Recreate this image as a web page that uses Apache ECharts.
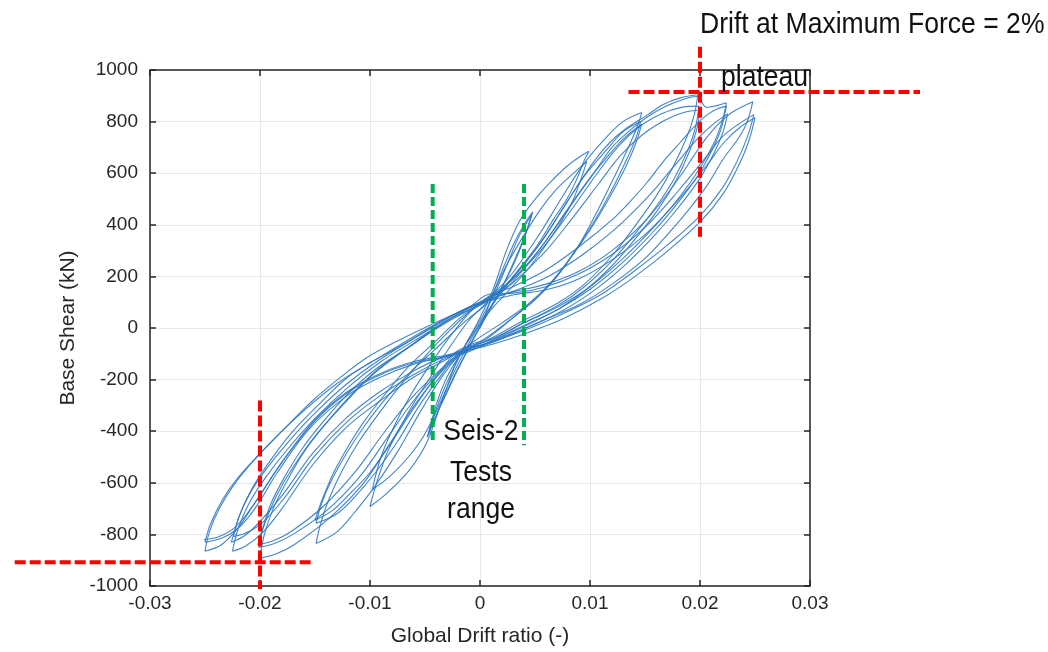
<!DOCTYPE html>
<html><head><meta charset="utf-8">
<script src="https://cdn.jsdelivr.net/npm/echarts@6/dist/echarts.min.js"></script>
<style>html,body{margin:0;padding:0;background:#fff}#c{width:1048px;height:652px}</style>
</head><body><div id="c"></div>
<script>
// ---- tick labels ----
const xTicks = ['-0.03','-0.02','-0.01','0','0.01','0.02','0.03'];
const yTicks = ['-1000','-800','-600','-400','-200','0','200','400','600','800','1000'];

// ---- hysteresis path (drift ratio, base shear kN) ----
const lvl1 = [
[0,0],[0.001,110],[0.002,220],[0.003,320],[0.004,400],[0.0048,450],
[0.0042,370],[0.0033,270],[0.0024,190],[0.0012,100],[0,10],[-0.0012,-90],[-0.0024,-190],[-0.0036,-300],[-0.0048,-423],
[-0.0042,-340],[-0.0033,-240],[-0.0022,-140],[-0.001,-40],[0.0003,50],[0.0015,150],[0.0026,260],[0.0036,360],[0.0047,440],
[0.004,350],[0.003,250],[0.0018,140],[0.0005,40],[-0.0008,-60],[-0.002,-160],[-0.003,-250],[-0.004,-340],[-0.0047,-415]
];
const lvl2 = [
[-0.0047,-415],[-0.004,-300],[-0.003,-190],[-0.0015,-80],[0,40],[0.0012,150],[0.0024,300],[0.0036,415],[0.0048,488],[0.0064,565],[0.0079,627],[0.0091,665],[0.0099,685],
[0.0094,642],[0.0088,577],[0.0079,500],[0.0067,423],[0.0052,320],[0.0036,230],[0.002,140],[0.0003,40],[-0.0012,-75],[-0.003,-230],[-0.0048,-440],[-0.0064,-550],[-0.0085,-642],[-0.01,-692],
[-0.0094,-600],[-0.0084,-480],[-0.0072,-380],[-0.006,-290],[-0.0045,-190],[-0.003,-90],[-0.001,30],[0.0008,110],[0.0025,250],[0.004,360],[0.0055,460],[0.007,540],[0.0085,600],[0.0097,645],
[0.0092,580],[0.0084,490],[0.0072,400],[0.0058,310],[0.0042,220],[0.0025,140],[0.0008,60],[-0.0018,-100],[-0.0032,-250],[-0.005,-410],[-0.0065,-500],[-0.0082,-575],[-0.0098,-627]
];
const lvl3 = [
[-0.0098,-627],[-0.009,-500],[-0.0078,-380],[-0.0063,-260],[-0.0045,-140],[-0.0025,-20],[-0.0005,80],[0.0016,150],[0.003,215],[0.0055,370],[0.0075,510],[0.0095,640],[0.0115,740],[0.013,800],[0.0147,835],
[0.0143,781],[0.0134,692],[0.0118,550],[0.0103,423],[0.0088,308],[0.007,200],[0.005,110],[0.003,40],[0.0005,-45],[-0.0011,-70],[-0.0033,-180],[-0.0055,-330],[-0.0075,-480],[-0.0095,-610],[-0.0115,-720],[-0.013,-790],[-0.0149,-835],
[-0.0145,-760],[-0.0137,-660],[-0.0125,-550],[-0.011,-440],[-0.009,-320],[-0.007,-210],[-0.005,-110],[-0.003,-20],[-0.001,60],[0.0007,112],[0.003,195],[0.0055,330],[0.0075,460],[0.0095,590],[0.0115,690],[0.013,760],[0.0146,800],
[0.0142,740],[0.0133,650],[0.0118,520],[0.0102,400],[0.0085,290],[0.0068,190],[0.005,110],[0.003,40],[0.0005,-40],[-0.002,-105],[-0.0033,-170],[-0.0055,-300],[-0.0075,-440],[-0.0095,-560],[-0.0115,-660],[-0.013,-720],[-0.0149,-757],
[-0.0144,-680],[-0.0135,-590],[-0.0122,-490],[-0.0105,-380],[-0.0085,-270],[-0.0063,-170],[-0.004,-80],[-0.0015,20],[0.001,105],[0.003,180],[0.0055,310],[0.0078,450],[0.0098,570],[0.0117,670],[0.0132,740],[0.0147,790],
[0.0142,720],[0.0132,620],[0.0117,500],[0.01,380],[0.0082,270],[0.0063,170],[0.0043,90],[0.002,20],[-0.0005,-50],[-0.002,-100],[-0.004,-190],[-0.006,-310],[-0.008,-440],[-0.01,-560],[-0.012,-650],[-0.0135,-710],[-0.015,-745]
];
const lvl4 = [
[-0.015,-745],[-0.0143,-660],[-0.0133,-560],[-0.012,-460],[-0.0105,-360],[-0.0085,-250],[-0.0065,-150],[-0.004,-50],[-0.0015,50],[0.0018,140],[0.003,200],[0.0055,330],[0.0079,488],[0.0103,642],[0.0118,719],[0.0134,777],[0.0152,825],[0.0166,865],[0.0182,892],[0.0198,904],
[0.0195,830],[0.0188,740],[0.0175,620],[0.016,510],[0.014,390],[0.012,280],[0.0095,170],[0.007,95],[0.004,30],[0.001,-40],[-0.0009,-80],[-0.0033,-160],[-0.0058,-290],[-0.0082,-448],[-0.0106,-602],[-0.0137,-737],[-0.0169,-840],[-0.0185,-875],[-0.020,-892],
[-0.0196,-800],[-0.0188,-700],[-0.0175,-590],[-0.016,-480],[-0.014,-370],[-0.0115,-250],[-0.009,-150],[-0.006,-60],[-0.003,30],[0.0005,100],[0.003,190],[0.0055,300],[0.008,440],[0.0105,590],[0.0125,700],[0.0145,780],[0.0165,830],[0.0183,855],[0.0199,860],
[0.0196,780],[0.0189,690],[0.0176,575],[0.016,470],[0.014,360],[0.012,260],[0.0095,160],[0.007,85],[0.004,20],[0.001,-45],[-0.0021,-95],[-0.0035,-160],[-0.006,-280],[-0.0085,-430],[-0.011,-580],[-0.014,-710],[-0.017,-800],[-0.0187,-835],[-0.0201,-850],
[-0.0197,-770],[-0.019,-680],[-0.0178,-580],[-0.0162,-470],[-0.0142,-360],[-0.012,-255],[-0.0095,-160],[-0.0065,-75],[-0.0035,10],[0.0013,125],[0.003,175],[0.0058,290],[0.0083,420],[0.0108,560],[0.0128,670],[0.0148,750],[0.0168,805],[0.0185,835],[0.02,845],
[0.0197,770],[0.019,680],[0.0178,570],[0.0162,460],[0.0142,350],[0.0122,250],[0.0097,150],[0.0072,75],[0.0042,10],[0.0012,-50],[-0.0017,-95],[-0.0037,-165],[-0.0062,-270],[-0.0088,-410],[-0.0113,-555],[-0.0142,-690],[-0.0172,-790],[-0.0188,-825],[-0.0202,-840]
];
const lvl5 = [
[-0.0202,-840],[-0.0195,-750],[-0.0185,-650],[-0.017,-540],[-0.015,-420],[-0.0125,-300],[-0.01,-190],[-0.007,-90],[-0.004,0],[-0.001,80],[0.0008,118],[0.003,190],[0.0055,310],[0.008,460],[0.0105,610],[0.012,700],[0.0136,765],[0.0152,818],[0.0168,858],[0.0184,885],[0.0197,897],[0.0206,855],[0.0215,862],[0.0224,873],
[0.022,800],[0.0213,720],[0.02,620],[0.018,500],[0.016,400],[0.013,270],[0.01,160],[0.007,80],[0.004,20],[0.001,-45],[-0.0018,-82],[-0.003,-120],[-0.006,-190],[-0.009,-280],[-0.0121,-383],[-0.0152,-530],[-0.018,-700],[-0.0197,-790],[-0.0213,-845],[-0.0225,-865],
[-0.022,-780],[-0.021,-680],[-0.0195,-580],[-0.0175,-470],[-0.015,-350],[-0.012,-230],[-0.009,-130],[-0.006,-50],[-0.0025,40],[0.0017,138],[0.003,160],[0.006,225],[0.009,315],[0.0121,423],[0.0136,488],[0.0152,565],[0.0166,642],[0.0182,719],[0.0197,790],[0.0206,825],[0.0215,848],[0.0224,860],
[0.0219,770],[0.0211,690],[0.0198,590],[0.0178,475],[0.0158,375],[0.013,255],[0.01,150],[0.007,70],[0.004,10],[0.001,-50],[-0.001,-92],[-0.003,-115],[-0.006,-180],[-0.009,-260],[-0.012,-360],[-0.015,-495],[-0.0178,-660],[-0.0198,-755],[-0.0213,-795],[-0.0224,-808],
[-0.0219,-730],[-0.0209,-640],[-0.0194,-545],[-0.0174,-440],[-0.015,-330],[-0.0122,-220],[-0.0092,-125],[-0.006,-40],[-0.0025,50],[0.0014,118],[0.0032,145],[0.0062,200],[0.0092,280],[0.0122,380],[0.0152,505],[0.0177,630],[0.0197,730],[0.0212,790],[0.0225,830],
[0.0221,760],[0.0213,680],[0.02,580],[0.018,465],[0.016,365],[0.0132,245],[0.0102,140],[0.0072,60],[0.0042,0],[0.0012,-55],[-0.0022,-100],[-0.0032,-110],[-0.0062,-170],[-0.0092,-250],[-0.0122,-350],[-0.0152,-485],[-0.018,-650],[-0.02,-750],[-0.0214,-805],[-0.0226,-830]
];
const lvl6 = [
[-0.0226,-830],[-0.0218,-720],[-0.0207,-620],[-0.019,-510],[-0.017,-400],[-0.0145,-290],[-0.012,-190],[-0.009,-110],[-0.0055,-20],[-0.002,60],[0.0015,122],[0.003,140],[0.006,170],[0.009,220],[0.012,300],[0.0152,423],[0.0182,588],[0.0194,665],[0.0206,738],[0.0218,796],[0.023,838],[0.0248,877],
[0.0243,800],[0.0236,742],[0.0221,654],[0.0206,550],[0.019,460],[0.017,360],[0.015,270],[0.012,170],[0.009,90],[0.006,35],[0.003,-20],[0.0005,-60],[-0.0012,-80],[-0.003,-110],[-0.006,-140],[-0.009,-190],[-0.012,-260],[-0.0155,-390],[-0.0185,-565],[-0.0197,-650],[-0.0209,-725],[-0.0221,-780],[-0.0235,-815],[-0.025,-830],
[-0.0245,-760],[-0.0234,-665],[-0.022,-580],[-0.0203,-500],[-0.018,-400],[-0.0152,-281],[-0.0125,-185],[-0.0103,-115],[-0.0075,-50],[-0.0045,12],[-0.001,80],[0.0009,132],[0.003,135],[0.006,160],[0.009,210],[0.012,285],[0.015,390],[0.018,530],[0.0205,660],[0.022,740],[0.0235,790],[0.0249,827],
[0.0243,740],[0.0233,640],[0.022,540],[0.02,435],[0.017,320],[0.014,220],[0.011,130],[0.0073,50],[0.004,-10],[0.001,-55],[-0.0019,-92],[-0.003,-105],[-0.006,-130],[-0.009,-175],[-0.012,-245],[-0.015,-355],[-0.018,-520],[-0.0205,-680],[-0.022,-775],[-0.0235,-840],[-0.025,-865],
[-0.0246,-790],[-0.0237,-700],[-0.0224,-610],[-0.0207,-520],[-0.0185,-420],[-0.016,-320],[-0.013,-215],[-0.01,-135],[-0.007,-65],[-0.004,10],[-0.0008,85],[0.002,118],[0.0032,130],[0.0062,150],[0.0092,195],[0.0122,270],[0.0152,370],[0.0182,505],[0.0207,635],[0.0222,720],[0.0237,780],[0.025,815],
[0.0244,720],[0.0234,620],[0.0221,520],[0.0201,415],[0.0171,300],[0.0141,200],[0.0111,115],[0.0075,35],[0.0042,-20],[0.0012,-62],[-0.0008,-85],[-0.003,-110],[-0.006,-135],[-0.009,-180],[-0.012,-250],[-0.015,-360],[-0.018,-520],[-0.0205,-680],[-0.0222,-770],[-0.0237,-808],[-0.0251,-820]
];

// ---- annotation guide lines (data coordinates) ----
const redVTop = [[0.02,1090],[0.02,354]];
const redHTop = [[0.0135,915],[0.040,915]];
const redVBot = [[-0.02,-281],[-0.02,-1012]];
const redHBot = [[-0.0423,-908],[-0.0154,-908]];
const greenL  = [[-0.0043,558],[-0.0043,-446]];
const greenR  = [[0.0040,558],[0.0040,-454]];

// ---- build ----
function splitBranches(path){
  const out=[]; let cur=[path[0]];
  for(let i=1;i<path.length;i++){
    cur.push(path[i]);
    if(i<path.length-1){
      const d1=path[i][0]-path[i-1][0], d2=path[i+1][0]-path[i][0];
      if(d1*d2<0){ out.push(cur); cur=[path[i]]; }
    }
  }
  out.push(cur); return out;
}
const series=[];
[lvl1,lvl2,lvl3,lvl4,lvl5,lvl6].forEach(p=>{
  splitBranches(p).forEach(b=>{
    series.push({type:'line',data:b,smooth:0.35,showSymbol:false,symbol:'none',
      lineStyle:{color:'#2e78c2',width:1.1,opacity:0.9},z:2,silent:true});
  });
});

const FONT='"Liberation Sans", Arial, Helvetica, sans-serif';
const axisCol='#262626';
const chart=echarts.init(document.getElementById('c'),null,{renderer:'canvas'});
chart.setOption({
  animation:false,
  backgroundColor:'#ffffff',
  grid:{left:150,right:238,top:70,bottom:54,containLabel:false},
  xAxis:[{
    type:'value',min:-0.03,max:0.03,interval:0.01,
    name:'Global Drift ratio (-)',nameLocation:'middle',nameGap:40,
    nameTextStyle:{fontFamily:FONT,fontSize:21,color:axisCol},
    axisLine:{show:true,onZero:false,lineStyle:{color:axisCol,width:1.5}},
    axisTick:{show:true,inside:true,length:6,lineStyle:{color:axisCol,width:1.5}},
    axisLabel:{fontFamily:FONT,fontSize:19,color:axisCol,margin:8,
      formatter:v=>xTicks[Math.round((v+0.03)/0.01)]},
    splitLine:{show:true,lineStyle:{color:'#e8e8e8',width:1}}
  },{
    type:'value',min:-0.03,max:0.03,interval:0.01,position:'top',
    axisLine:{show:true,onZero:false,lineStyle:{color:axisCol,width:1.5}},
    axisTick:{show:true,inside:true,length:6,lineStyle:{color:axisCol,width:1.5}},
    axisLabel:{show:false},splitLine:{show:false}
  }],
  yAxis:[{
    type:'value',min:-1000,max:1000,interval:200,
    name:'Base Shear (kN)',nameLocation:'middle',nameGap:71,nameRotate:90,
    nameTextStyle:{fontFamily:FONT,fontSize:21,color:axisCol},
    axisLine:{show:true,onZero:false,lineStyle:{color:axisCol,width:1.5}},
    axisTick:{show:true,inside:true,length:6,lineStyle:{color:axisCol,width:1.5}},
    axisLabel:{fontFamily:FONT,fontSize:19,color:axisCol,margin:12,
      formatter:v=>yTicks[Math.round((v+1000)/200)]},
    splitLine:{show:true,lineStyle:{color:'#e8e8e8',width:1}}
  },{
    type:'value',min:-1000,max:1000,interval:200,position:'right',
    axisLine:{show:true,onZero:false,lineStyle:{color:axisCol,width:1.5}},
    axisTick:{show:true,inside:true,length:6,lineStyle:{color:axisCol,width:1.5}},
    axisLabel:{show:false},splitLine:{show:false}
  }],
  series:series
});

// guide lines and annotation text, placed through the chart's own coordinate conversion
const px = p => chart.convertToPixel({xAxisIndex:0,yAxisIndex:0}, p);
function guideLine(d,color,dash){
  const a=px(d[0]), b=px(d[1]);
  return {type:'line',z:100,silent:true,shape:{x1:a[0],y1:a[1],x2:b[0],y2:b[1]},
    style:{stroke:color,lineWidth:4,lineDash:dash}};
}
function label(text,x,y,align){
  return {type:'text',x:x,y:y,scaleX:0.885,z:101,silent:true,
    style:{text:text,font:'30px '+FONT,fill:'#111',textAlign:align,textVerticalAlign:'middle'}};
}
chart.setOption({graphic:[
  guideLine(redVTop,'#ff0000',[11,4]),
  guideLine(redHTop,'#ff0000',[11,4]),
  guideLine(redVBot,'#ff0000',[11,4]),
  guideLine(redHBot,'#ff0000',[11,4]),
  guideLine(greenL,'#00b050',[9,4]),
  guideLine(greenR,'#00b050',[9,4]),
  label('Drift at Maximum Force = 2%',700,25,'left'),
  label('plateau',721,78,'left'),
  label('Seis-2',481,432,'center'),
  label('Tests',481,473,'center'),
  label('range',481,510,'center')
]});
</script></body></html>
